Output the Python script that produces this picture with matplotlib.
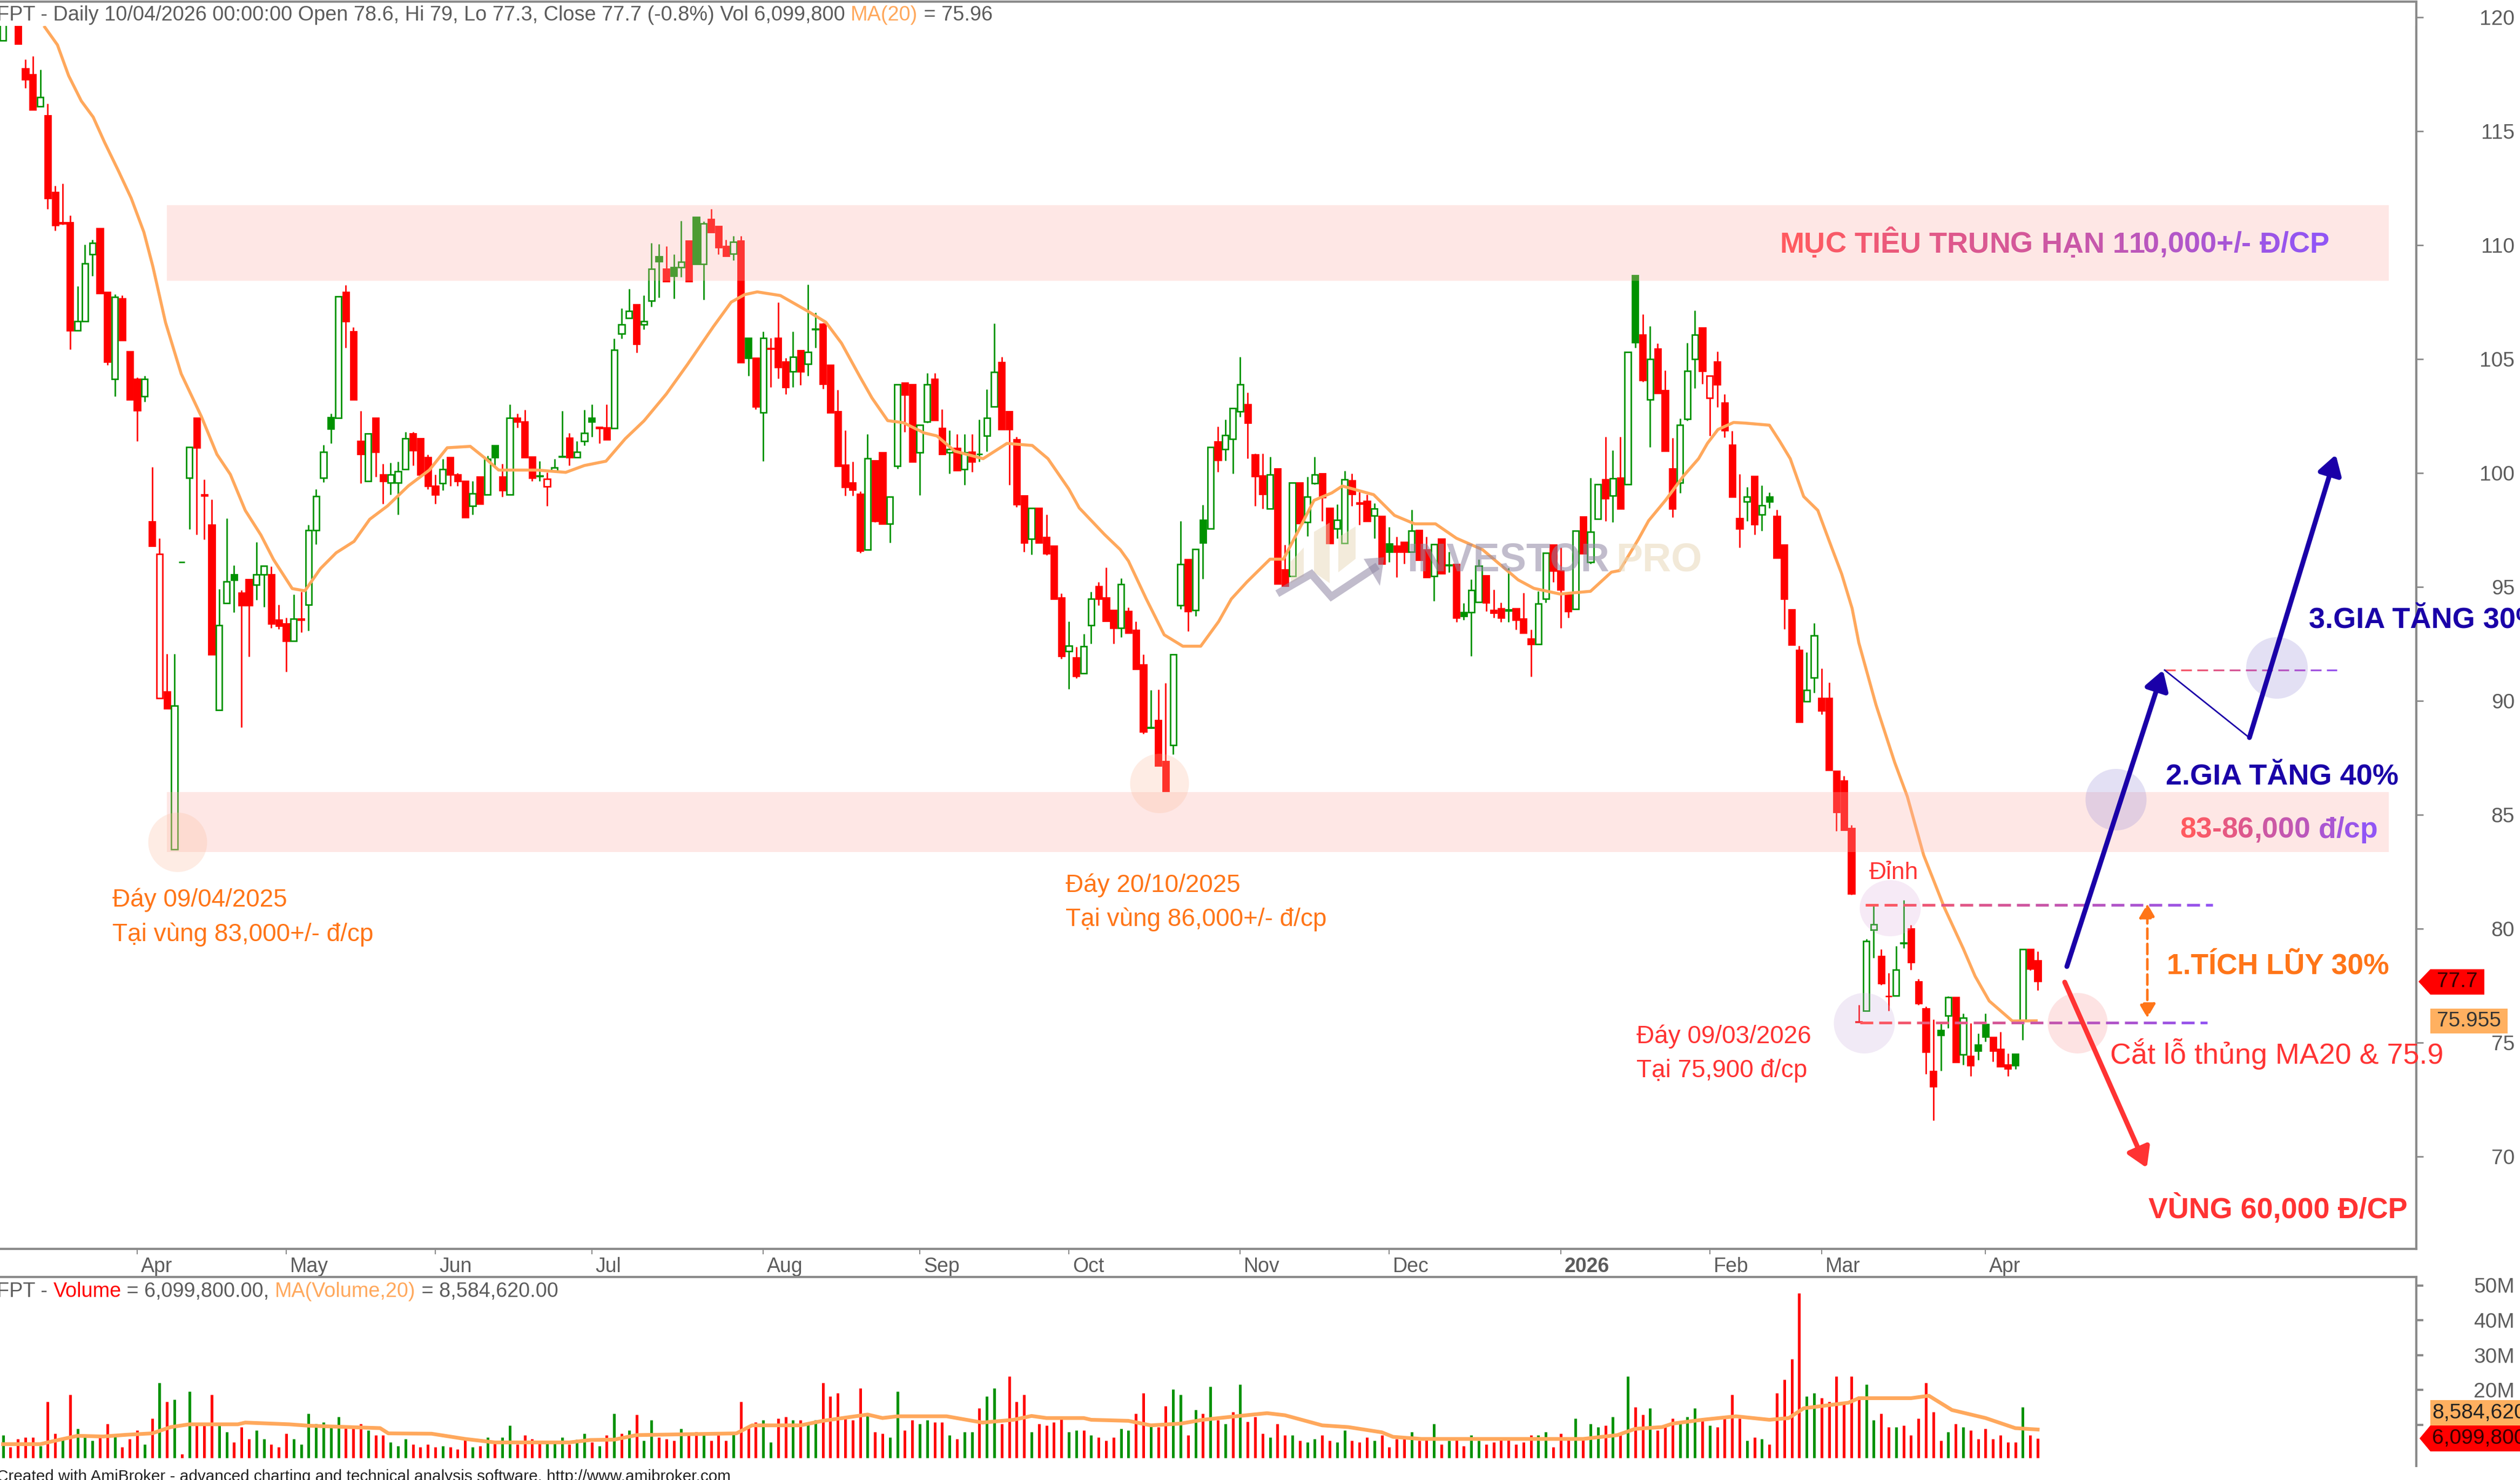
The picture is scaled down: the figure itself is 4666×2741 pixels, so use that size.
import numpy as np
import matplotlib
matplotlib.use('Agg')
import matplotlib.pyplot as plt
from matplotlib.colors import to_rgb
from matplotlib.patches import Rectangle, Ellipse, FancyArrowPatch, Polygon

plt.rcParams['font.family'] = ['Liberation Sans', 'DejaVu Sans']

W, H = 4666, 2741

# daily candles
opens = [
    118.98,122.0,120.2,117.76,117.48,116.1,115.69,112.32,111.0,110.99,
    106.26,106.65,109.6,110.74,107.93,104.12,107.66,105.34,104.12,103.37,
    97.87,90.12,90.4,83.48,96.1,99.8,102.43,99.05,97.73,89.6,
    94.29,95.55,94.74,95.33,95.1,95.55,95.55,93.56,93.39,92.63,
    93.6,94.22,97.5,99.79,102.45,102.43,107.95,106.22,101.39,99.64,
    102.43,99.94,99.58,99.58,100.17,101.74,101.51,100.68,99.44,99.54,
    100.68,99.94,99.64,98.56,99.84,99.05,101.21,99.84,99.05,102.43,
    102.25,100.72,99.88,99.4,100.09,100.73,101.55,100.68,101.41,102.43,
    102.02,102.0,101.96,106.12,106.81,107.4,106.52,107.56,109.5,108.97,
    109.03,109.03,110.19,111.23,109.17,111.13,110.84,109.95,109.62,110.19,
    105.93,105.04,102.65,105.48,105.93,104.89,104.45,105.38,104.8,106.33,
    106.54,104.74,102.71,100.35,99.58,99.08,96.64,100.55,100.91,97.77,
    100.3,103.96,103.88,100.91,102.25,104.13,101.96,100.91,101.08,100.17,
    100.93,100.84,101.63,102.91,104.87,102.71,101.46,99.0,97.1,98.47,
    97.19,96.8,94.52,92.18,91.9,91.2,93.31,95.02,94.52,93.98,
    93.19,93.93,93.11,91.6,88.83,89.15,87.35,88.07,94.2,96.22,
    93.98,97.94,97.55,101.38,101.05,101.5,102.71,103.01,100.8,99.88,
    98.43,100.18,95.77,95.47,99.58,97.84,99.55,99.97,98.47,97.55,
    96.92,99.67,98.7,98.77,98.13,98.1,96.89,96.8,96.97,96.55,
    97.5,96.64,95.47,97.1,95.98,96.0,93.89,93.89,94.34,95.51,
    93.98,94.06,94.0,94.06,93.61,92.73,92.48,94.47,96.84,95.72,
    94.69,94.03,98.09,96.1,97.99,99.72,99.0,99.8,99.5,108.68,
    106.07,103.23,105.46,103.62,100.18,99.57,102.37,105.01,106.37,103.3,
    104.89,103.08,101.23,98.02,98.74,99.87,98.17,98.97,98.11,96.85,
    94.0,92.22,89.98,91.01,90.13,90.13,86.93,86.49,84.41,75.93,
    76.4,79.96,78.8,77.05,77.06,79.39,79.99,77.69,76.49,73.74,
    75.54,76.18,77.0,74.48,74.41,74.9,75.81,75.23,74.72,74.04,
    74.5,75.95,79.1,78.6,
]
highs = [
    120.5,122.0,120.2,118.15,118.3,117.7,116.2,112.62,112.7,111.3,
    108.2,110.03,110.25,110.74,107.93,107.85,107.8,105.34,104.2,104.26,
    100.26,97.13,92.06,92.06,96.1,101.14,102.43,99.72,98.84,94.9,
    98.01,95.95,94.85,95.33,96.97,95.93,95.9,94.22,93.65,94.67,
    94.8,97.73,99.29,101.24,102.6,107.75,108.25,106.4,102.72,101.74,
    102.43,100.4,100.46,100.5,101.8,101.8,101.51,100.8,99.94,100.62,
    100.68,100.0,99.64,99.64,99.84,100.76,101.21,100.4,103.02,102.6,
    102.78,100.72,100.52,100.03,100.62,102.72,101.75,101.4,102.78,103.02,
    102.02,103.0,105.9,107.24,108.09,107.4,107.79,110.09,110.05,109.95,
    109.6,111.07,110.19,111.23,111.05,111.58,110.84,110.25,110.4,110.4,
    105.93,105.04,106.2,105.93,107.5,105.05,106.22,105.38,108.28,107.04,
    106.6,104.74,103.66,101.88,100.5,99.2,101.71,100.55,100.91,98.97,
    103.88,103.96,103.88,102.1,104.38,104.38,102.8,101.88,101.71,101.71,
    101.71,102.35,103.68,106.57,105.1,102.71,101.6,99.0,98.47,98.47,
    98.17,96.8,94.72,93.48,92.36,92.94,94.8,95.22,95.86,93.98,
    95.39,94.1,93.48,92.03,90.48,90.5,90.78,92.03,97.9,96.22,
    96.67,98.6,101.13,102.05,102.35,102.84,105.09,103.54,100.85,100.85,
    100.71,100.18,96.84,99.58,99.58,99.83,100.71,99.97,98.47,98.63,
    100.1,99.97,99.18,99.05,98.68,98.1,97.64,97.2,96.97,98.38,
    97.5,97.2,96.87,97.1,96.55,96.0,94.3,95.34,96.22,95.51,
    94.89,94.31,95.84,94.06,94.73,93.14,94.81,96.5,96.84,96.72,
    94.69,97.47,98.09,99.8,99.5,101.6,101.0,101.6,105.31,108.68,
    106.97,106.45,105.7,104.51,101.54,102.4,105.72,107.13,106.37,104.26,
    105.34,103.47,101.84,99.95,99.38,99.87,99.45,99.15,98.4,96.85,
    94.0,92.43,92.13,93.41,91.42,90.8,86.93,86.7,84.55,76.65,
    79.56,81.05,79.1,78.06,79.25,81.25,80.17,77.79,76.6,76.02,
    75.85,77.03,77.0,76.29,75.85,75.4,76.29,75.23,75.47,74.52,
    74.5,79.1,79.1,79.0,
]
lows = [
    118.98,121.0,118.84,116.89,115.94,116.1,111.6,110.65,110.9,105.44,
    106.26,106.65,108.64,107.89,104.75,103.37,105.83,103.22,101.41,103.14,
    96.8,90.12,89.67,83.48,96.1,97.54,97.3,97.09,92.04,89.6,
    94.29,93.89,88.84,91.95,94.43,94.12,93.2,93.15,91.28,92.63,
    93.0,93.08,96.87,99.6,101.31,102.43,105.5,103.22,99.54,99.64,
    99.84,98.66,99.05,98.17,100.17,100.33,99.94,99.3,98.66,99.25,
    99.44,99.44,98.07,98.17,98.66,99.05,100.23,98.95,99.05,102.0,
    100.68,99.64,99.64,98.56,100.09,100.7,100.33,100.68,101.2,101.6,
    101.31,101.47,101.96,105.9,106.81,105.28,106.3,107.3,107.7,108.42,
    107.66,108.6,108.42,109.17,107.6,110.58,109.6,109.52,109.35,104.85,
    104.26,102.8,100.52,103.77,104.15,103.47,103.77,103.87,104.26,105.49,
    103.7,102.66,100.3,99.0,99.0,96.5,96.64,97.85,97.77,96.94,
    100.2,101.8,100.51,99.02,102.2,102.33,100.83,99.97,100.1,99.47,
    100.05,100.5,100.96,102.91,101.93,99.47,98.5,96.55,96.42,96.94,
    96.4,94.47,91.86,90.53,91.0,91.2,92.51,94.2,93.51,92.51,
    92.8,92.98,91.4,88.55,88.8,87.15,86.04,87.65,94.03,93.06,
    93.73,95.36,97.55,100.05,100.55,99.97,102.46,100.63,98.55,98.43,
    98.43,95.14,95.06,95.47,97.8,97.22,99.5,97.89,96.92,97.14,
    96.92,98.55,97.72,97.89,97.14,96.02,96.1,95.42,96.02,96.55,
    96.19,95.44,94.39,95.59,95.64,93.47,93.56,91.98,94.34,93.93,
    93.64,93.47,93.47,93.14,92.98,91.06,92.48,94.31,95.22,93.19,
    93.64,94.03,96.47,96.02,97.99,97.9,97.84,98.44,99.5,105.51,
    104.0,101.13,103.5,100.98,98.06,99.12,102.3,103.73,103.9,101.64,
    102.9,101.57,98.97,96.73,97.9,97.31,97.46,98.45,96.28,93.15,
    92.47,89.07,89.98,90.36,89.4,86.97,84.3,84.34,81.49,75.9,
    76.4,78.73,77.53,76.4,77.06,79.15,78.2,76.67,73.63,71.59,
    73.77,75.63,74.14,74.04,73.54,74.25,75.05,74.18,73.95,73.54,
    73.84,75.13,78.17,77.3,
]
closes = [
    120.5,121.0,118.84,117.28,115.94,116.5,112.07,110.89,110.95,106.26,
    106.67,109.2,110.09,107.89,104.89,107.73,105.83,103.22,102.74,104.12,
    96.8,96.45,89.67,89.8,96.1,101.14,101.11,99.0,92.04,93.32,
    95.24,95.31,94.19,94.19,95.55,95.93,93.39,93.3,92.63,93.6,
    93.55,97.5,98.98,100.93,101.94,107.75,106.65,103.22,100.82,101.74,
    100.92,99.64,99.94,100.07,101.51,101.0,99.94,99.44,99.05,100.17,
    99.94,99.64,98.07,99.11,98.66,100.62,100.68,99.25,102.43,102.25,
    100.68,99.78,99.86,99.74,100.23,100.71,100.68,100.92,101.76,102.25,
    101.98,101.47,105.4,106.52,107.11,105.67,106.65,108.97,109.3,108.42,
    108.64,109.27,108.42,109.17,110.94,110.58,109.9,109.52,110.15,104.85,
    105.04,102.92,105.93,105.45,104.65,103.77,105.1,104.45,105.3,106.3,
    103.91,102.66,100.3,99.38,99.27,96.59,100.63,97.89,97.77,98.97,
    103.88,103.43,100.51,102.1,103.88,102.33,100.83,101.05,100.13,100.91,
    100.5,100.82,102.41,104.43,101.93,101.93,98.63,96.94,98.47,96.94,
    96.47,94.47,91.98,92.43,91.1,92.4,94.47,94.47,93.51,93.19,
    95.11,92.98,91.4,88.65,88.81,87.15,86.04,92.03,96.0,93.94,
    96.67,96.94,101.13,100.58,101.66,102.84,103.88,102.21,99.85,99.08,
    99.93,95.14,95.06,99.58,97.8,98.97,99.93,98.93,96.92,97.94,
    99.72,99.08,98.66,97.89,98.43,96.02,96.55,96.55,96.55,97.47,
    96.19,95.44,96.87,95.59,95.96,93.64,93.73,94.86,95.92,94.31,
    93.86,93.64,93.96,93.56,92.98,92.48,94.27,96.5,95.72,94.89,
    93.94,97.47,96.47,97.43,99.5,98.89,99.77,98.44,105.31,105.74,
    104.07,105.01,103.5,100.98,98.44,102.11,104.48,106.07,104.48,104.26,
    103.88,101.88,98.97,97.56,98.97,97.76,98.59,98.74,96.28,94.48,
    92.47,89.07,90.48,92.88,89.57,86.97,85.13,84.34,81.55,75.91,
    79.46,80.2,77.6,77.03,78.19,79.37,78.53,76.72,74.59,73.09,
    75.34,77.0,74.14,76.08,74.0,74.65,75.27,74.65,73.97,73.87,
    74.0,79.1,78.26,77.7,
]
candle_colors = (
    'GRRRRGRRRR' 'GGGRRGRRRG' 'RRRGGGRRRG' 'GGRRGGRRRG' 'RGGGGGRRRG'
    'RRGGGRRRRG' 'RRRGRGGRGR' 'RRGRGGRGGG' 'RRGGGRGGGR' 'GGRGGRRRGR'
    'GRGRRRGRGG' 'RRRRRRGRRG' 'GRRGGRRGRG' 'RGGGRRRRGR' 'RRRGRGGRRR'
    'GRRRGRRGGR' 'GGGRGGGRRR' 'GRRGRGGRRG' 'GRRRGRGRRG' 'RRGRGRGGGR'
    'RRGRRRGGRR' 'RGRGGRGRGG' 'RGRRRGGGRR' 'RRRRGRGGRR' 'RRGGRRRRRR'
    'GGRRGGRRRR' 'GGRGRGGRRR' 'GGRR'
)

# MA(20) of the close: bar position and value
ma_bar = [
    5.6,7.3,8.8,10.5,12.1,13.6,15.5,17.2,18.9,20.1,21.8,23.9,26.6,28.7,30.5,32.5,34.6,36.3,38.8,40.5,
    42.6,44.7,47.1,49.2,51.6,54.4,57.2,59.6,62.7,64.8,66.5,71.7,75.5,78,80.9,83.5,86,89,91.8,95.3,
    97.7,99.5,101.2,104.3,108,110.4,112.5,115,116.6,118.7,120.8,123.6,125.3,127.7,131.5,134.7,138.1,140.2,143,144.4,
    147.8,149.9,151,153.4,155.8,158.3,160.7,163.1,164.8,166.9,170,171.8,173.8,175.9,178.3,179.7,183.9,186.7,189.4,192.2,
    195,198.5,203.3,205.4,208.9,213,215.8,216.9,219.4,220.8,223.1,225.5,227.5,228.7,230.1,232.2,233.8,237,238.4,239.8,
    241.6,243.5,245.3,246.7,248.1,249,251.3,253.8,255.5,257.7,260.5,263,264.6,266.5,269.6,272.8,
]
ma_val = [
    119.57,118.79,117.44,116.33,115.62,114.53,113.25,112.06,110.57,109.07,106.61,104.36,102.49,100.82,99.94,98.36,97.28,96.2,94.93,94.83,
    95.81,96.5,97.0,97.97,98.56,99.44,100.13,101.11,101.17,100.62,100.13,100.13,100.03,100.33,100.52,101.51,102.29,103.47,104.75,106.42,
    107.5,107.83,107.95,107.79,107.1,106.62,105.7,104.21,103.29,102.3,102.21,101.76,101.63,100.96,100.63,101.3,101.21,100.63,99.3,98.47,
    97.3,96.64,96.14,94.47,92.9,92.4,92.4,93.48,94.47,95.22,96.22,96.22,97.47,98.8,99.13,99.43,99.05,98.14,97.77,97.77,
    97.14,96.64,95.31,94.94,94.69,94.81,95.65,95.72,97.08,97.91,98.82,99.88,100.63,101.31,101.91,102.22,102.19,102.1,101.39,100.63,
    98.97,98.36,96.78,95.57,94.06,92.55,89.83,87.31,85.81,83.23,80.91,79.14,77.92,76.83,75.95,75.96,
]

# volume in millions
volumes = [
    7.0,3.5,5.9,6.4,6.4,3.9,16.6,7.4,5.7,18.6,
    8.8,6.7,5.4,7.0,10.3,7.0,3.5,5.9,8.4,4.4,
    11.8,22.0,16.6,17.2,1.6,19.5,9.8,9.8,18.6,10.3,
    7.9,4.9,9.3,5.9,8.4,5.9,4.4,3.5,7.4,5.9,
    4.4,13.2,10.3,10.7,9.8,12.2,9.8,9.8,10.3,8.4,
    7.0,7.0,4.9,3.9,5.9,4.4,3.5,4.4,3.5,3.9,
    3.5,2.9,5.9,3.5,3.9,6.4,4.9,6.4,9.8,4.4,
    7.0,5.9,4.9,4.9,4.9,6.4,4.4,5.8,7.4,4.9,
    3.9,7.0,13.2,7.4,8.4,12.8,5.4,11.3,6.4,5.9,
    5.4,8.8,7.0,7.9,7.4,5.4,7.0,5.4,7.9,16.6,
    9.3,10.7,11.3,4.9,11.8,12.2,11.3,11.3,10.7,11.3,
    22.0,18.1,19.0,11.8,11.3,20.5,13.2,7.9,7.4,6.4,
    19.5,8.4,11.3,10.3,11.3,10.7,10.7,7.0,5.9,7.9,
    7.9,14.7,18.1,20.5,10.3,23.9,16.6,18.6,7.9,10.3,
    9.8,10.7,12.2,7.9,8.4,8.4,7.0,6.4,5.4,6.4,
    8.8,8.4,13.2,19.1,10.3,9.3,15.3,20.1,18.6,7.0,
    14.2,13.2,21.0,11.3,10.3,13.7,21.6,10.8,12.2,7.4,
    6.4,10.3,7.0,7.0,5.4,4.9,5.9,7.0,5.4,4.9,
    8.4,5.4,4.9,6.4,5.4,7.0,3.5,5.9,5.9,7.9,
    5.4,5.9,10.3,4.4,5.4,5.9,3.9,7.0,5.4,4.4,
    4.9,6.4,6.4,4.4,4.9,7.0,7.0,7.9,3.5,7.4,
    5.9,11.8,5.9,10.3,9.3,9.8,12.3,7.4,23.9,15.0,
    12.8,14.7,8.4,9.8,11.8,10.7,12.3,14.7,11.3,9.8,
    9.3,12.2,18.6,11.8,5.4,6.4,5.9,4.4,19.1,23.0,
    28.8,47.8,18.1,19.1,17.7,16.6,23.9,16.5,23.9,18.1,
    21.6,11.3,13.2,9.3,9.3,9.8,7.0,11.8,22.0,13.7,
    5.4,7.9,10.3,9.3,8.4,5.9,8.8,5.9,7.0,4.9,
    4.9,15.1,7.0,6.1,
]
volume_colors = (
    'GRRRRGRRGR' 'GGGRRGRRRG' 'RGRGRGRRRG' 'GRRRGGRRRG' 'GGGGGGRRRG'
    'RRGGGRRRRG' 'RRRGRGRGGR' 'RRRGGGRGGR' 'GRGRGRGGRR' 'RGRRGRRRGR'
    'RRGGRRGRGG' 'RRRRRRGRRG' 'GRRGGRRGRG' 'GRGGRRRRGR' 'RRRGGRGRRR'
    'GGRRGRRGGR' 'GRGRGRGRRR' 'GRRGRGGRRG' 'GRRRGRRRRG' 'RRGRGRRGGR'
    'RRRRRRGGRR' 'RGRGGRGRGR' 'RGRRRGGGRG' 'RRRRGRGRRR' 'RRGGRRRRRR'
    'GGRRGRRRRR' 'RGRGRRRRRR' 'RGRR'
)
vol_ma_bar = [0,5,7,10,13.4,16.6,20,22.5,25,31.5,32.5,38.4,41,50.6,51.7,57.5,62,66,76,78.8,
              82,85,98.4,100.5,107,110,116,118,120,126.6,131.4,135.6,138,140,145,146,151,154,158,161,
              165.4,169.6,172,177,180.5,185,186.5,190.3,212,216.6,219,222.6,224,228,232.5,237,239.6,241.6,247.6,249,
              256,258.4,261.5,266,270,273]
vol_ma_val = [4.4,4.4,5.4,6.8,6.6,7.1,7.5,9.3,10.1,10.1,10.6,10.1,9.7,9.0,7.5,7.4,5.9,4.9,4.9,5.6,
              5.7,7.0,7.5,9.8,9.8,11.1,12.9,11.9,12.4,12.4,10.6,11.4,12.5,11.9,11.9,11.4,11.1,9.8,10.3,11.4,
              12.4,13.3,12.7,9.8,9.3,7.8,6.5,5.9,5.9,7.0,8.8,9.3,10.3,11.4,12.4,11.4,11.9,14.7,16.3,17.6,
              17.6,18.3,14.2,11.9,9.0,8.6]

month_bars = [18,38,58,79,102,123,143,166,186,209,229,244,266]
month_labels = ['Apr','May','Jun','Jul','Aug','Sep','Oct','Nov','Dec','2026','Feb','Mar','Apr']
price_ticks = [120,115,110,105,100,95,90,85,80,75,70]
volume_ticks = [50,40,30,20,10]
volume_tick_labels = ['50M','40M','30M','20M','']

GREEN = '#009200'
RED = '#ff0000'
MA_COL = '#ffa85c'
GRAY = '#5c5c5c'
AXIS = '#8a8a8a'
ROSE = '#ff5a5f'
VIOLET = '#9155f5'
NAVY = '#1a00a8'
ORANGE = '#ff7518'
SOFT_RED = '#ff3333'


def px_rect(x0, y0, x1, y1):
    return [x0 / W, 1 - y1 / H, (x1 - x0) / W, (y1 - y0) / H]


fig = plt.figure(figsize=(W / 100, H / 100), dpi=100, facecolor='white')

# ---- price pane ----
ax = fig.add_axes(px_rect(0, 3, 4474, 2313))
ax.set_xlim(-0.406, 323.8)
ax.set_ylim(120.76 - 2313 / 42.2, 120.76 - 3 / 42.2)
bars = np.arange(len(closes))
o = np.array(opens)
c = np.array(closes)
cols = [GREEN if k == 'G' else RED for k in candle_colors]
ax.vlines(bars, lows, highs, colors=cols, linewidth=2.0, zorder=2)
faces = ['white' if c[i] > o[i] else cols[i] for i in bars]
ax.bar(bars, np.abs(c - o), bottom=np.minimum(o, c), width=0.82, color=faces,
       edgecolor=cols, linewidth=2.0, zorder=3)
ax.plot(ma_bar, ma_val, color=MA_COL, lw=4.0, zorder=4)

for s in ['left']:
    ax.spines[s].set_visible(False)
for s in ['top', 'right', 'bottom']:
    ax.spines[s].set_color(AXIS)
    ax.spines[s].set_linewidth(3)
ax.yaxis.tick_right()
ax.set_yticks(price_ticks)
ax.tick_params(axis='y', length=9, width=2, color=AXIS, pad=122, labelsize=28, labelcolor=GRAY)
for t in ax.get_yticklabels():
    t.set_ha('right')
ax.set_xticks(month_bars)
ax.set_xticklabels([])
ax.tick_params(axis='x', length=7, width=1.5, color=AXIS, direction='out')
for b, lab in zip(month_bars, month_labels):
    ax.annotate(lab, (b, 0), xycoords=('data', 'axes fraction'), xytext=(5, -11),
                textcoords='offset points', va='top', ha='left', fontsize=27, color=GRAY,
                fontweight='bold' if lab == '2026' else 'normal')

# ---- volume pane ----
vx = fig.add_axes(px_rect(0, 2365, 4474, 2715))
vx.set_xlim(-0.406, 323.8)
vx.set_ylim((2703 - 2715) * 10 / 64.5, (2703 - 2365) * 10 / 64.5)
vol_cols = [GREEN if k == 'G' else RED for k in volume_colors]
vx.vlines(bars, 0.5, volumes, colors=vol_cols, linewidth=3.6, zorder=2)
vx.plot(vol_ma_bar, vol_ma_val, color=MA_COL, lw=5.0, zorder=3)
for s in ['left', 'bottom']:
    vx.spines[s].set_visible(False)
for s in ['top', 'right']:
    vx.spines[s].set_color(AXIS)
    vx.spines[s].set_linewidth(3)
vx.set_xticks([])
vx.yaxis.tick_right()
vx.set_yticks(volume_ticks)
vx.set_yticklabels(volume_tick_labels)
vx.tick_params(axis='y', length=9, width=3, color=AXIS, pad=122, labelsize=28, labelcolor=GRAY)
for t in vx.get_yticklabels():
    t.set_ha('right')

# ---- everything pasted on top, in image pixels ----
ovl = fig.add_axes([0, 0, 1, 1], zorder=10)
ovl.set_xlim(0, W)
ovl.set_ylim(H, 0)
ovl.axis('off')
renderer = fig.canvas.get_renderer()


def advance(s, size, weight):
    # width up to the end of s, the bar stops trailing spaces being dropped
    a = ovl.text(0, 0, s + '|', fontsize=size, fontweight=weight)
    b = ovl.text(0, 0, '|', fontsize=size, fontweight=weight)
    w = a.get_window_extent(renderer).width - b.get_window_extent(renderer).width
    a.remove()
    b.remove()
    return w


def gradient_text(x, y, s, size, c0, c1, weight='bold'):
    rgb0, rgb1 = np.array(to_rgb(c0)), np.array(to_rgb(c1))
    base = y + 0.36 * size / 0.72
    for k, ch in enumerate(s):
        if ch == ' ':
            continue
        col = rgb0 + (rgb1 - rgb0) * k / (len(s) - 1)
        ovl.text(x + advance(s[:k], size, weight), base, ch, fontsize=size,
                 fontweight=weight, color=tuple(col), va='baseline', ha='left')


def run_text(x, y, parts, size):
    for s, col in parts:
        ovl.text(x, y, s, fontsize=size, color=col, va='center', ha='left')
        x += advance(s, size, 'normal')


def gradient_dash(x0, x1, y, lw, dash, gap):
    rgb0, rgb1 = np.array(to_rgb(ROSE)), np.array(to_rgb(VIOLET))
    for a in np.arange(x0, x1, dash + gap):
        col = rgb0 + (rgb1 - rgb0) * (a - x0) / (x1 - x0)
        ovl.plot([a, min(a + dash, x1)], [y, y], color=tuple(col), lw=lw, solid_capstyle='butt')


def arrow(x0, y0, x1, y1, col, lw, style='-|>,head_length=0.9,head_width=0.55', scale=24, ls='-'):
    ovl.add_patch(FancyArrowPatch((x0, y0), (x1, y1), arrowstyle=style, mutation_scale=scale,
                                  color=col, lw=lw, shrinkA=0, shrinkB=0, linestyle=ls, zorder=6))


# header strip hides the candles behind it
ovl.add_patch(Rectangle((0, 6), 4472, 42, facecolor='white', edgecolor='none', zorder=0))
run_text(-6, 28, [('FPT - Daily 10/04/2026 00:00:00 Open 78.6, Hi 79, Lo 77.3, Close 77.7 (-0.8%) Vol 6,099,800 ', GRAY),
                  ('MA(20)', MA_COL), (' = 75.96', GRAY)], 27.3)
run_text(-6, 2392, [('FPT - ', GRAY), ('Volume', RED), (' = 6,099,800.00, ', GRAY),
                    ('MA(Volume,20)', MA_COL), (' = 8,584,620.00', GRAY)], 27.2)
ovl.text(-6, 2735, 'Created with AmiBroker - advanced charting and technical analysis software. http://www.amibroker.com',
         fontsize=21.4, color='#222222', va='center', ha='left')

# zones
ovl.add_patch(Rectangle((309, 380), 4423 - 309, 140, facecolor=(252 / 255, 178 / 255, 172 / 255), alpha=0.3, edgecolor='none'))
ovl.add_patch(Rectangle((309, 1467), 4423 - 309, 111, facecolor=(252 / 255, 178 / 255, 172 / 255), alpha=0.3, edgecolor='none'))

# ellipses
ellipses = [
    (329, 1560, 109, 110, '#fcbc9e'),
    (2147, 1451, 109, 110, '#fcbc9e'),
    (3500, 1682, 113, 104, '#deb2de'),
    (3452, 1895, 113, 112, '#cdb2de'),
    (3847, 1895, 111, 112, '#f89b9b'),
    (3918, 1481, 113, 114, '#988ed7'),
    (4216, 1237, 114, 114, '#988ed7'),
]
for ex, ey, ew, eh, ec in ellipses:
    ovl.add_patch(Ellipse((ex, ey), ew, eh, facecolor=ec, alpha=0.27, edgecolor='none'))

# watermark
for pts in [[(2390, 1040), (2414, 1014), (2414, 1067), (2390, 1080)],
            [(2433, 985), (2462, 968), (2462, 1080), (2433, 1060)],
            [(2478, 1060), (2510, 1035), (2510, 975), (2478, 995)]]:
    ovl.add_patch(Polygon(pts, closed=True, facecolor='#e8d8b8', alpha=0.5, edgecolor='none'))
ovl.plot([2371, 2428, 2465, 2545], [1096, 1063, 1105, 1052], color='#8f86a3', alpha=0.55, lw=10, solid_joinstyle='miter')
ovl.add_patch(Polygon([(2525, 1035), (2563, 1032), (2555, 1085)], closed=True, facecolor='#8f86a3', alpha=0.55, edgecolor='none'))
ovl.text(2605, 1058, 'INVESTOR', fontsize=53, fontweight='bold', color='#8f86a3', alpha=0.55, va='baseline', ha='left')
ovl.text(2992, 1058, 'PRO', fontsize=53, fontweight='bold', color='#e8d8b8', alpha=0.55, va='baseline', ha='left')

# dashed levels
gradient_dash(3454, 4097, 1676, 3.6, 24, 11)
gradient_dash(3444, 4087, 1894, 3.6, 24, 11)
gradient_dash(4008, 4327, 1241, 2.4, 20, 10)

# arrows
arrow(3827, 1790, 4005, 1241, NAVY, 6.5)
ovl.plot([4008, 4162], [1241, 1364], color=NAVY, lw=2)
arrow(4165, 1366, 4325, 842, NAVY, 6.5)
arrow(3823, 1819, 3975, 2163, SOFT_RED, 6.5)
arrow(3976, 1885, 3976, 1674, ORANGE, 3.4, style='<|-|>,head_length=0.6,head_width=0.35', scale=26, ls=(0, (4, 2)))

# text
gradient_text(3295, 448, 'MỤC TIÊU TRUNG HẠN 110,000+/- Đ/CP', 39, ROSE, VIOLET)
gradient_text(4036, 1532, '83-86,000 đ/cp', 38.5, ROSE, VIOLET)
ovl.text(4010, 1439, '2.GIA TĂNG 40%', fontsize=39, fontweight='bold', color=NAVY, va='center', ha='left')
ovl.text(4275, 1150, '3.GIA TĂNG 30%', fontsize=39, fontweight='bold', color=NAVY, va='center', ha='left')
ovl.text(4012, 1789, '1.TÍCH LŨY 30%', fontsize=38.4, fontweight='bold', color=ORANGE, va='center', ha='left')
ovl.text(3978, 2238, 'VÙNG 60,000 Đ/CP', fontsize=38.8, fontweight='bold', color=SOFT_RED, va='center', ha='left')
ovl.text(3907, 1952, 'Cắt lỗ thủng MA20 & 75.9', fontsize=38.8, color=SOFT_RED, va='center', ha='left')
ovl.text(3461, 1616, 'Đỉnh', fontsize=32, color=SOFT_RED, va='center', ha='left')
ovl.text(208, 1667, 'Đáy 09/04/2025', fontsize=33, color=ORANGE, va='center', ha='left')
ovl.text(208, 1731, 'Tại vùng 83,000+/- đ/cp', fontsize=33, color=ORANGE, va='center', ha='left')
ovl.text(1973, 1640, 'Đáy 20/10/2025', fontsize=33, color=ORANGE, va='center', ha='left')
ovl.text(1973, 1703, 'Tại vùng 86,000+/- đ/cp', fontsize=33, color=ORANGE, va='center', ha='left')
ovl.text(3030, 1920, 'Đáy 09/03/2026', fontsize=33, color=SOFT_RED, va='center', ha='left')
ovl.text(3030, 1983, 'Tại 75,900 đ/cp', fontsize=33, color=SOFT_RED, va='center', ha='left')

# value tags on the axis
ovl.add_patch(Polygon([(4478, 1818), (4500, 1795), (4600, 1795), (4600, 1842), (4500, 1842)], closed=True, facecolor='#ff0000', edgecolor='none'))
ovl.text(4550, 1818, '77.7', fontsize=28, color='#330000', va='center', ha='center')
ovl.add_patch(Rectangle((4500, 1868), 143, 46, facecolor='#ffb060', edgecolor='none'))
ovl.text(4571, 1891, '75.955', fontsize=28, color='#333333', va='center', ha='center')
ovl.add_patch(Rectangle((4500, 2593), 166, 47, facecolor='#ffb060', edgecolor='none'))
ovl.text(4503, 2617, '8,584,620', fontsize=28, color='#222222', va='center', ha='left')
ovl.add_patch(Polygon([(4480, 2664), (4500, 2640), (4666, 2640), (4666, 2688), (4500, 2688)], closed=True, facecolor='#ff0000', edgecolor='none'))
ovl.text(4503, 2664, '6,099,800', fontsize=28, color='#330000', va='center', ha='left')

fig.savefig('out.png', dpi=100)
